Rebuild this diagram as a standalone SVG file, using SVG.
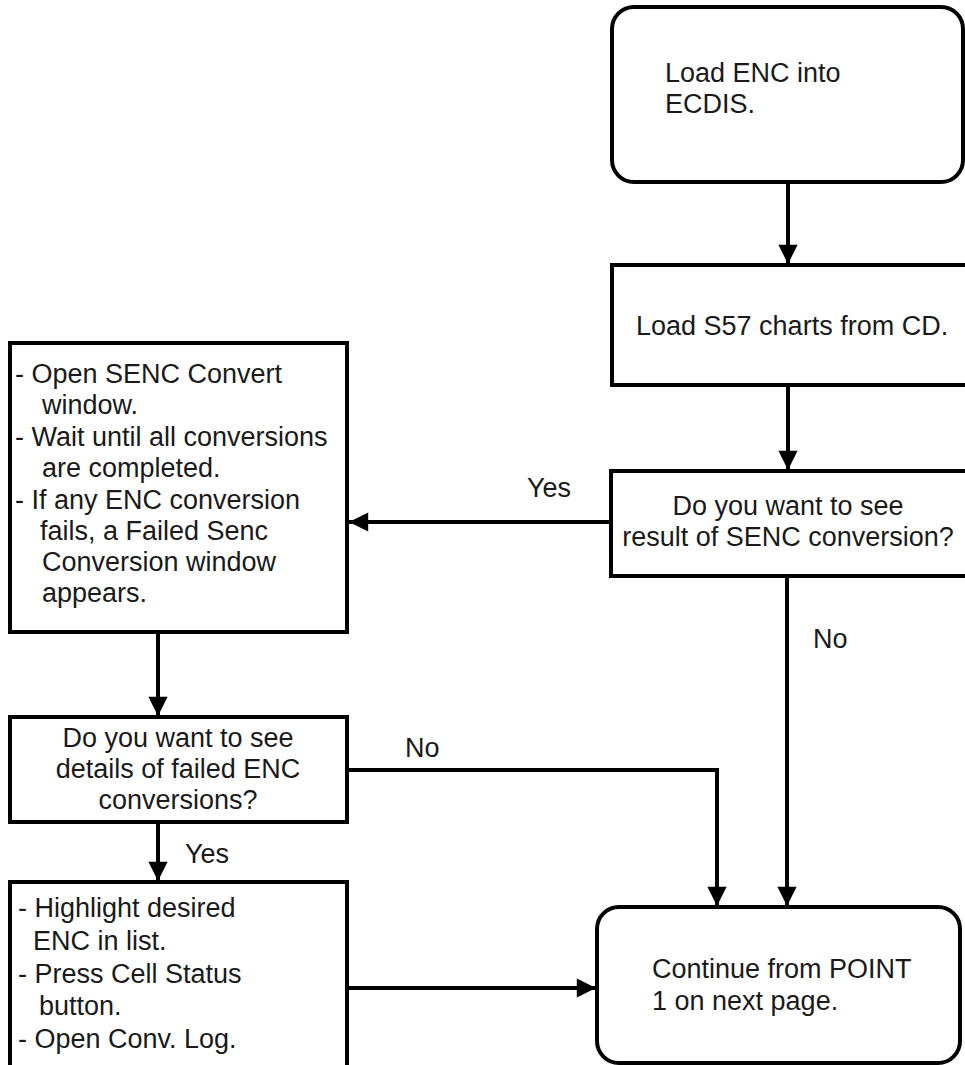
<svg xmlns="http://www.w3.org/2000/svg" width="965" height="1065" viewBox="0 0 965 1065">
  <style>
    .box { fill: #ffffff; stroke: #000000; stroke-width: 4; }
    .wire { fill: none; stroke: #000000; stroke-width: 4; }
    text { font-family: "Liberation Sans", Arial, sans-serif; font-size: 27px; fill: #1a1a1a; }
    .mid { text-anchor: middle; }
  </style>
  <defs>
    <marker id="arrow" viewBox="0 0 10 10" refX="10" refY="5" markerWidth="5" markerHeight="4.8" markerUnits="strokeWidth" orient="auto">
      <path d="M0,0 L10,5 L0,10 z" fill="#000000"/>
    </marker>
  </defs>
  <rect width="965" height="1065" fill="#ffffff"/>

  <!-- connectors and their labels -->
  <g id="connectors">
    <line class="wire" x1="788" y1="182" x2="788" y2="264" marker-end="url(#arrow)"/>
    <line class="wire" x1="788" y1="385" x2="788" y2="470" marker-end="url(#arrow)"/>
    <line class="wire" x1="611" y1="522" x2="349" y2="522" marker-end="url(#arrow)"/>
    <line class="wire" x1="787" y1="576" x2="787" y2="906" marker-end="url(#arrow)"/>
    <line class="wire" x1="158" y1="632" x2="158" y2="716" marker-end="url(#arrow)"/>
    <polyline class="wire" points="347,770 717,770 717,906" marker-end="url(#arrow)"/>
    <line class="wire" x1="158" y1="822" x2="158" y2="881" marker-end="url(#arrow)"/>
    <line class="wire" x1="347" y1="988" x2="596" y2="988" marker-end="url(#arrow)"/>
    <text x="527" y="497">Yes</text>
    <text x="813" y="648">No</text>
    <text x="405" y="757">No</text>
    <text x="185" y="863">Yes</text>
  </g>

  <g id="load-enc">
    <rect class="box" x="612" y="7" width="351" height="175" rx="22"/>
    <text x="665" y="82">Load ENC into</text>
    <text x="665" y="113">ECDIS.</text>
  </g>

  <g id="load-s57">
    <rect class="box" x="612" y="265" width="360" height="120"/>
    <text x="636" y="335">Load S57 charts from CD.</text>
  </g>

  <g id="see-result">
    <rect class="box" x="611" y="471" width="360" height="105"/>
    <text class="mid" x="788" y="515">Do you want to see</text>
    <text class="mid" x="788" y="546">result of SENC conversion?</text>
  </g>

  <g id="senc-convert">
    <rect class="box" x="10" y="343" width="337" height="289"/>
    <text x="15" y="383">- Open SENC Convert</text>
    <text x="42" y="414">window.</text>
    <text x="15" y="446">- Wait until all conversions</text>
    <text x="42" y="477">are completed.</text>
    <text x="15" y="509">- If any ENC conversion</text>
    <text x="40" y="540">fails, a Failed Senc</text>
    <text x="42" y="571">Conversion window</text>
    <text x="42" y="602">appears.</text>
  </g>

  <g id="see-details">
    <rect class="box" x="10" y="717" width="337" height="105"/>
    <text class="mid" x="178" y="747">Do you want to see</text>
    <text class="mid" x="178" y="778">details of failed ENC</text>
    <text class="mid" x="178" y="809">conversions?</text>
  </g>

  <g id="open-log">
    <rect class="box" x="10" y="882" width="337" height="200"/>
    <text x="18" y="917">- Highlight desired</text>
    <text x="33" y="950">ENC in list.</text>
    <text x="18" y="983">- Press Cell Status</text>
    <text x="39" y="1015">button.</text>
    <text x="18" y="1048">- Open Conv. Log.</text>
  </g>

  <g id="continue">
    <rect class="box" x="597" y="907" width="363" height="156" rx="22"/>
    <text x="652" y="978">Continue from POINT</text>
    <text x="652" y="1010">1 on next page.</text>
  </g>
</svg>
